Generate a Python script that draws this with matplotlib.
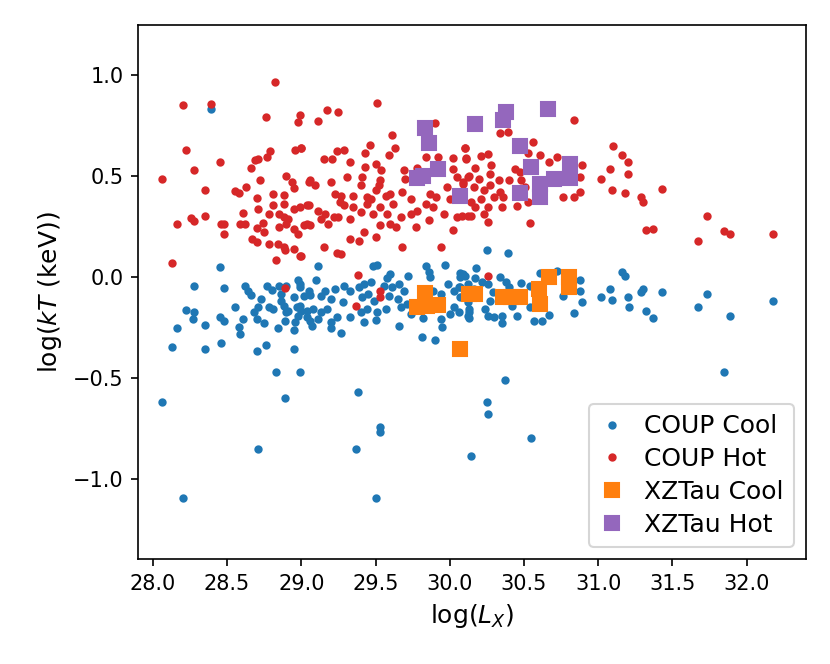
import numpy as np
import matplotlib
matplotlib.use('Agg')
import matplotlib.pyplot as plt

# COUP cool component: (log Lx, log kT)
coup_cool = [
    (28.45, 0.05), (28.28, -0.045), (28.48, -0.052), (28.62, -0.044), (28.64, -0.067),
    (28.66, -0.087), (28.77, -0.044), (28.80, -0.063), (28.85, -0.042), (28.90, -0.042),
    (28.98, -0.017), (28.99, -0.05), (28.73, -0.108), (28.86, -0.083), (28.95, -0.10),
    (29.02, -0.092), (28.22, -0.161), (28.28, -0.171), (28.27, -0.209), (28.55, -0.15),
    (28.45, -0.196), (28.48, -0.215), (28.35, -0.237), (28.16, -0.252), (28.61, -0.207),
    (28.58, -0.245), (28.59, -0.283), (28.68, -0.174), (28.71, -0.15), (28.70, -0.207),
    (28.75, -0.227), (28.78, -0.15), (28.81, -0.158), (28.88, -0.141), (28.91, -0.166),
    (28.97, -0.15), (29.00, -0.166), (29.04, -0.199), (28.89, -0.215), (28.96, -0.224),
    (28.95, -0.262), (28.84, -0.252), (28.98, -0.191), (28.13, -0.347), (28.35, -0.356),
    (28.46, -0.326), (28.70, -0.365), (28.76, -0.336), (28.95, -0.356), (29.05, -0.067),
    (28.86, -0.116), (28.90, -0.174), (28.39, 0.831),
    (28.06, -0.618), (28.83, -0.468), (28.99, -0.468), (28.89, -0.60), (28.71, -0.852),
    (28.20, -1.093), (29.38, -0.567), (29.53, -0.74), (29.53, -0.768), (29.37, -0.852),
    (29.50, -1.093), (30.37, -0.507), (30.25, -0.618), (30.26, -0.676), (30.55, -0.795),
    (30.14, -0.885),
    (29.11, 0.057), (29.10, -0.017), (29.48, 0.057), (29.51, 0.062), (29.84, 0.057),
    (29.97, 0.062), (29.60, 0.016), (29.58, -0.006), (29.72, 0.006), (29.86, 0.024),
    (29.87, -0.001), (30.07, 0.021), (30.10, 0.007), (28.99, -0.034), (29.06, -0.088),
    (28.99, -0.141), (29.04, -0.166), (29.13, -0.092), (29.16, -0.067), (29.20, -0.108),
    (29.23, -0.058), (29.29, -0.042), (29.33, -0.067), (29.28, -0.125), (29.08, -0.158),
    (29.13, -0.174), (29.17, -0.158), (29.06, -0.215), (29.11, -0.207), (29.20, -0.224),
    (29.24, -0.199), (29.07, -0.24), (29.20, -0.252), (29.27, -0.275), (29.33, -0.199),
    (29.42, -0.224), (29.39, -0.05), (29.42, -0.034), (29.47, -0.026), (29.41, -0.10),
    (29.45, -0.083), (29.49, -0.116), (29.44, -0.158), (29.40, -0.174), (29.51, -0.174),
    (29.57, -0.158), (29.50, -0.212), (29.56, -0.042), (29.61, -0.05), (29.66, -0.034),
    (29.69, -0.067), (29.59, -0.092), (29.65, -0.108), (29.67, -0.15), (29.71, -0.133),
    (29.74, -0.182), (29.66, -0.243), (29.82, -0.202), (29.81, -0.295), (29.90, -0.309),
    (29.95, -0.245), (29.94, -0.207), (29.89, -0.067), (29.94, -0.083), (29.99, -0.034),
    (30.03, -0.067), (30.06, -0.05), (30.03, -0.15), (30.06, -0.174), (30.00, -0.182),
    (30.12, -0.191), (30.13, -0.158), (30.07, -0.10), (30.12, -0.083),
    (30.25, 0.136), (30.39, 0.12), (30.18, 0.046), (30.09, 0.016), (30.07, -0.001),
    (30.17, -0.004), (30.22, -0.026), (30.07, -0.05), (30.09, -0.092), (30.12, -0.125),
    (30.26, -0.034), (30.29, -0.075), (30.27, -0.116), (30.34, -0.001), (30.38, -0.026),
    (30.40, -0.05), (30.48, -0.031), (30.54, -0.042), (30.61, 0.019), (30.72, 0.029),
    (30.88, -0.017), (30.88, -0.07), (30.89, -0.125), (30.76, -0.092), (30.84, -0.179),
    (31.02, -0.097), (31.08, -0.058), (31.09, -0.113), (31.16, 0.024), (31.18, 0.007),
    (31.20, -0.10), (31.21, -0.15), (30.13, -0.174), (30.13, -0.202), (30.24, -0.158),
    (30.26, -0.191), (30.30, -0.199), (30.35, -0.191), (30.35, -0.229), (30.45, -0.194),
    (30.57, -0.215), (30.62, -0.215), (30.67, -0.186), (30.42, -0.141), (30.54, -0.15),
    (30.12, -0.034), (30.16, -0.058),
    (31.30, -0.058), (31.29, -0.072), (31.43, -0.075), (31.32, -0.166), (31.37, -0.20),
    (31.73, -0.085), (31.67, -0.148), (31.89, -0.194), (32.18, -0.118), (31.85, -0.47),
]

# COUP hot component
coup_hot = [
    (28.82, 0.963), (28.20, 0.85), (28.39, 0.854), (28.76, 0.79), (28.99, 0.80),
    (28.98, 0.766), (28.22, 0.63), (28.45, 0.568), (28.06, 0.486), (28.28, 0.527),
    (28.35, 0.428), (28.16, 0.261), (28.26, 0.291), (28.28, 0.276), (28.35, 0.304),
    (28.46, 0.261), (28.48, 0.212), (28.48, 0.263), (28.55, 0.425), (28.58, 0.417),
    (28.63, 0.447), (28.66, 0.537), (28.69, 0.58), (28.71, 0.585), (28.77, 0.593),
    (28.79, 0.621), (28.72, 0.481), (28.70, 0.39), (28.71, 0.338), (28.61, 0.316),
    (28.59, 0.263), (28.62, 0.261), (28.70, 0.245), (28.74, 0.266), (28.75, 0.224),
    (28.67, 0.189), (28.70, 0.172), (28.78, 0.164), (28.84, 0.164), (28.81, 0.412),
    (28.88, 0.405), (28.81, 0.355), (28.88, 0.359), (28.90, 0.499), (28.94, 0.469),
    (28.95, 0.441), (29.05, 0.469), (28.96, 0.63), (29.00, 0.638), (28.78, 0.313),
    (28.85, 0.313), (28.88, 0.296), (28.91, 0.288), (28.95, 0.336), (28.99, 0.346),
    (29.04, 0.354), (28.85, 0.247), (28.90, 0.263), (28.95, 0.239), (28.98, 0.214),
    (29.02, 0.255), (29.04, 0.263), (28.88, 0.148), (28.95, 0.14),
    (28.13, 0.068), (28.89, 0.136), (28.99, 0.106), (28.83, 0.082), (28.89, -0.055),
    (29.51, 0.86), (29.17, 0.824), (29.25, 0.814), (29.11, 0.771), (29.61, 0.702),
    (29.46, 0.651), (29.63, 0.636), (29.59, 0.601), (29.24, 0.623), (29.29, 0.63),
    (29.43, 0.615), (29.15, 0.583), (29.21, 0.582), (29.33, 0.567), (29.00, 0.636),
    (29.90, 0.763), (30.10, 0.636), (29.84, 0.592), (29.92, 0.592), (30.02, 0.59),
    (30.11, 0.587), (30.02, 0.536), (29.43, 0.546), (29.50, 0.557), (29.54, 0.527),
    (29.53, 0.481), (29.41, 0.494), (29.31, 0.494), (29.20, 0.469), (29.06, 0.478),
    (29.09, 0.453), (29.69, 0.527), (29.70, 0.486), (29.78, 0.541), (29.40, 0.453),
    (29.52, 0.453), (29.50, 0.428), (29.23, 0.412), (29.27, 0.403), (29.35, 0.403),
    (29.44, 0.395), (29.57, 0.403), (29.60, 0.412), (29.68, 0.42), (29.74, 0.387),
    (29.87, 0.412), (29.91, 0.395), (29.98, 0.445), (30.00, 0.387), (30.09, 0.461),
    (30.12, 0.494), (30.05, 0.494), (29.05, 0.354), (29.11, 0.329), (29.16, 0.313),
    (29.22, 0.296), (29.13, 0.288), (29.18, 0.263), (29.06, 0.255), (29.29, 0.354),
    (29.35, 0.346), (29.40, 0.321), (29.44, 0.362), (29.48, 0.313), (29.53, 0.346),
    (29.58, 0.313), (29.62, 0.362), (29.67, 0.296), (29.74, 0.313), (29.78, 0.329),
    (29.84, 0.362), (29.89, 0.346), (29.96, 0.313), (30.05, 0.296), (30.12, 0.304),
    (29.33, 0.288), (29.53, 0.255), (29.60, 0.263), (29.64, 0.247), (29.77, 0.247),
    (29.86, 0.28), (30.02, 0.234), (29.33, 0.189), (29.39, 0.177), (29.42, 0.222),
    (29.50, 0.197), (29.15, 0.151), (29.68, 0.151), (29.94, 0.151), (29.25, 0.296),
    (29.47, 0.387), (29.26, 0.37),
    (29.24, 0.118), (29.27, 0.115), (29.00, 0.106), (29.38, 0.011), (29.53, -0.07),
    (29.53, -0.097), (29.37, -0.143),
    (30.84, 0.775), (30.34, 0.712), (30.39, 0.719), (30.56, 0.666), (31.10, 0.646),
    (31.16, 0.605), (31.20, 0.568), (31.08, 0.532), (31.20, 0.511), (31.02, 0.483),
    (31.09, 0.428), (31.18, 0.417), (30.10, 0.638), (30.11, 0.585), (30.21, 0.598),
    (30.26, 0.61), (30.28, 0.553), (30.17, 0.539), (30.61, 0.605), (30.67, 0.568),
    (30.72, 0.592), (30.53, 0.615), (30.89, 0.555), (30.88, 0.494), (30.88, 0.42),
    (30.76, 0.395), (30.84, 0.395), (30.44, 0.536), (30.47, 0.519), (30.13, 0.502),
    (30.20, 0.486), (30.27, 0.511), (30.33, 0.478), (30.40, 0.478), (30.09, 0.469),
    (30.16, 0.445), (30.23, 0.428), (30.27, 0.453), (30.34, 0.42), (30.36, 0.395),
    (30.30, 0.395), (30.21, 0.387), (30.14, 0.37), (30.17, 0.346), (30.26, 0.346),
    (30.35, 0.346), (30.45, 0.349), (30.53, 0.37), (30.14, 0.304), (30.23, 0.313),
    (30.26, 0.271), (30.54, 0.268), (30.08, 0.30), (30.48, 0.478), (30.51, 0.445),
    (30.26, 0.006),
    (31.43, 0.435), (31.29, 0.395), (31.30, 0.37), (31.73, 0.303), (31.32, 0.234),
    (31.37, 0.237), (31.85, 0.229), (31.89, 0.212), (32.18, 0.212), (31.67, 0.177),
]

# XZ Tau fits
xztau_cool = [
    (29.83, -0.077), (29.78, -0.146), (29.92, -0.136), (29.85, -0.141), (30.13, -0.083),
    (30.17, -0.083), (30.36, -0.10), (30.47, -0.097), (30.61, -0.133), (30.60, -0.058),
    (30.67, -0.001), (30.80, -0.001), (30.80, -0.05), (30.41, -0.10), (30.07, -0.356),
]
xztau_hot = [
    (29.83, 0.737), (29.86, 0.662), (29.92, 0.536), (29.78, 0.491), (29.82, 0.498),
    (30.07, 0.40), (30.17, 0.758), (30.38, 0.816), (30.36, 0.778), (30.66, 0.833),
    (30.47, 0.646), (30.55, 0.544), (30.61, 0.461), (30.61, 0.395), (30.47, 0.415),
    (30.70, 0.486), (30.81, 0.56), (30.81, 0.491),
]

cool = np.array(coup_cool)
hot = np.array(coup_hot)
xc = np.array(xztau_cool)
xh = np.array(xztau_hot)

fig = plt.figure(figsize=(830 / 150, 664 / 150), dpi=150)
ax = fig.add_axes([0.1663, 0.1581, 0.8048, 0.8042])

ax.plot(cool[:, 0], cool[:, 1], 'o', ms=3, color='tab:blue', label='COUP Cool')
ax.plot(hot[:, 0], hot[:, 1], 'o', ms=3, color='tab:red', label='COUP Hot')
ax.plot(xc[:, 0], xc[:, 1], 's', ms=7, color='tab:orange', label='XZTau Cool')
ax.plot(xh[:, 0], xh[:, 1], 's', ms=7, color='tab:purple', label='XZTau Hot')

ax.set_xlim(27.90, 32.40)
ax.set_ylim(-1.394, 1.246)
ax.set_xticks(np.arange(28.0, 32.01, 0.5))
ax.set_yticks([-1.0, -0.5, 0.0, 0.5, 1.0])
ax.tick_params(labelsize=10)
ax.set_xlabel(r'log($L_X$)', fontsize=12)
ax.set_ylabel(r'log($kT$ (keV))', fontsize=12)
ax.legend(loc='lower right', fontsize=12, handlelength=1.0, labelspacing=0.35)

fig.savefig('out.png', dpi=150)
